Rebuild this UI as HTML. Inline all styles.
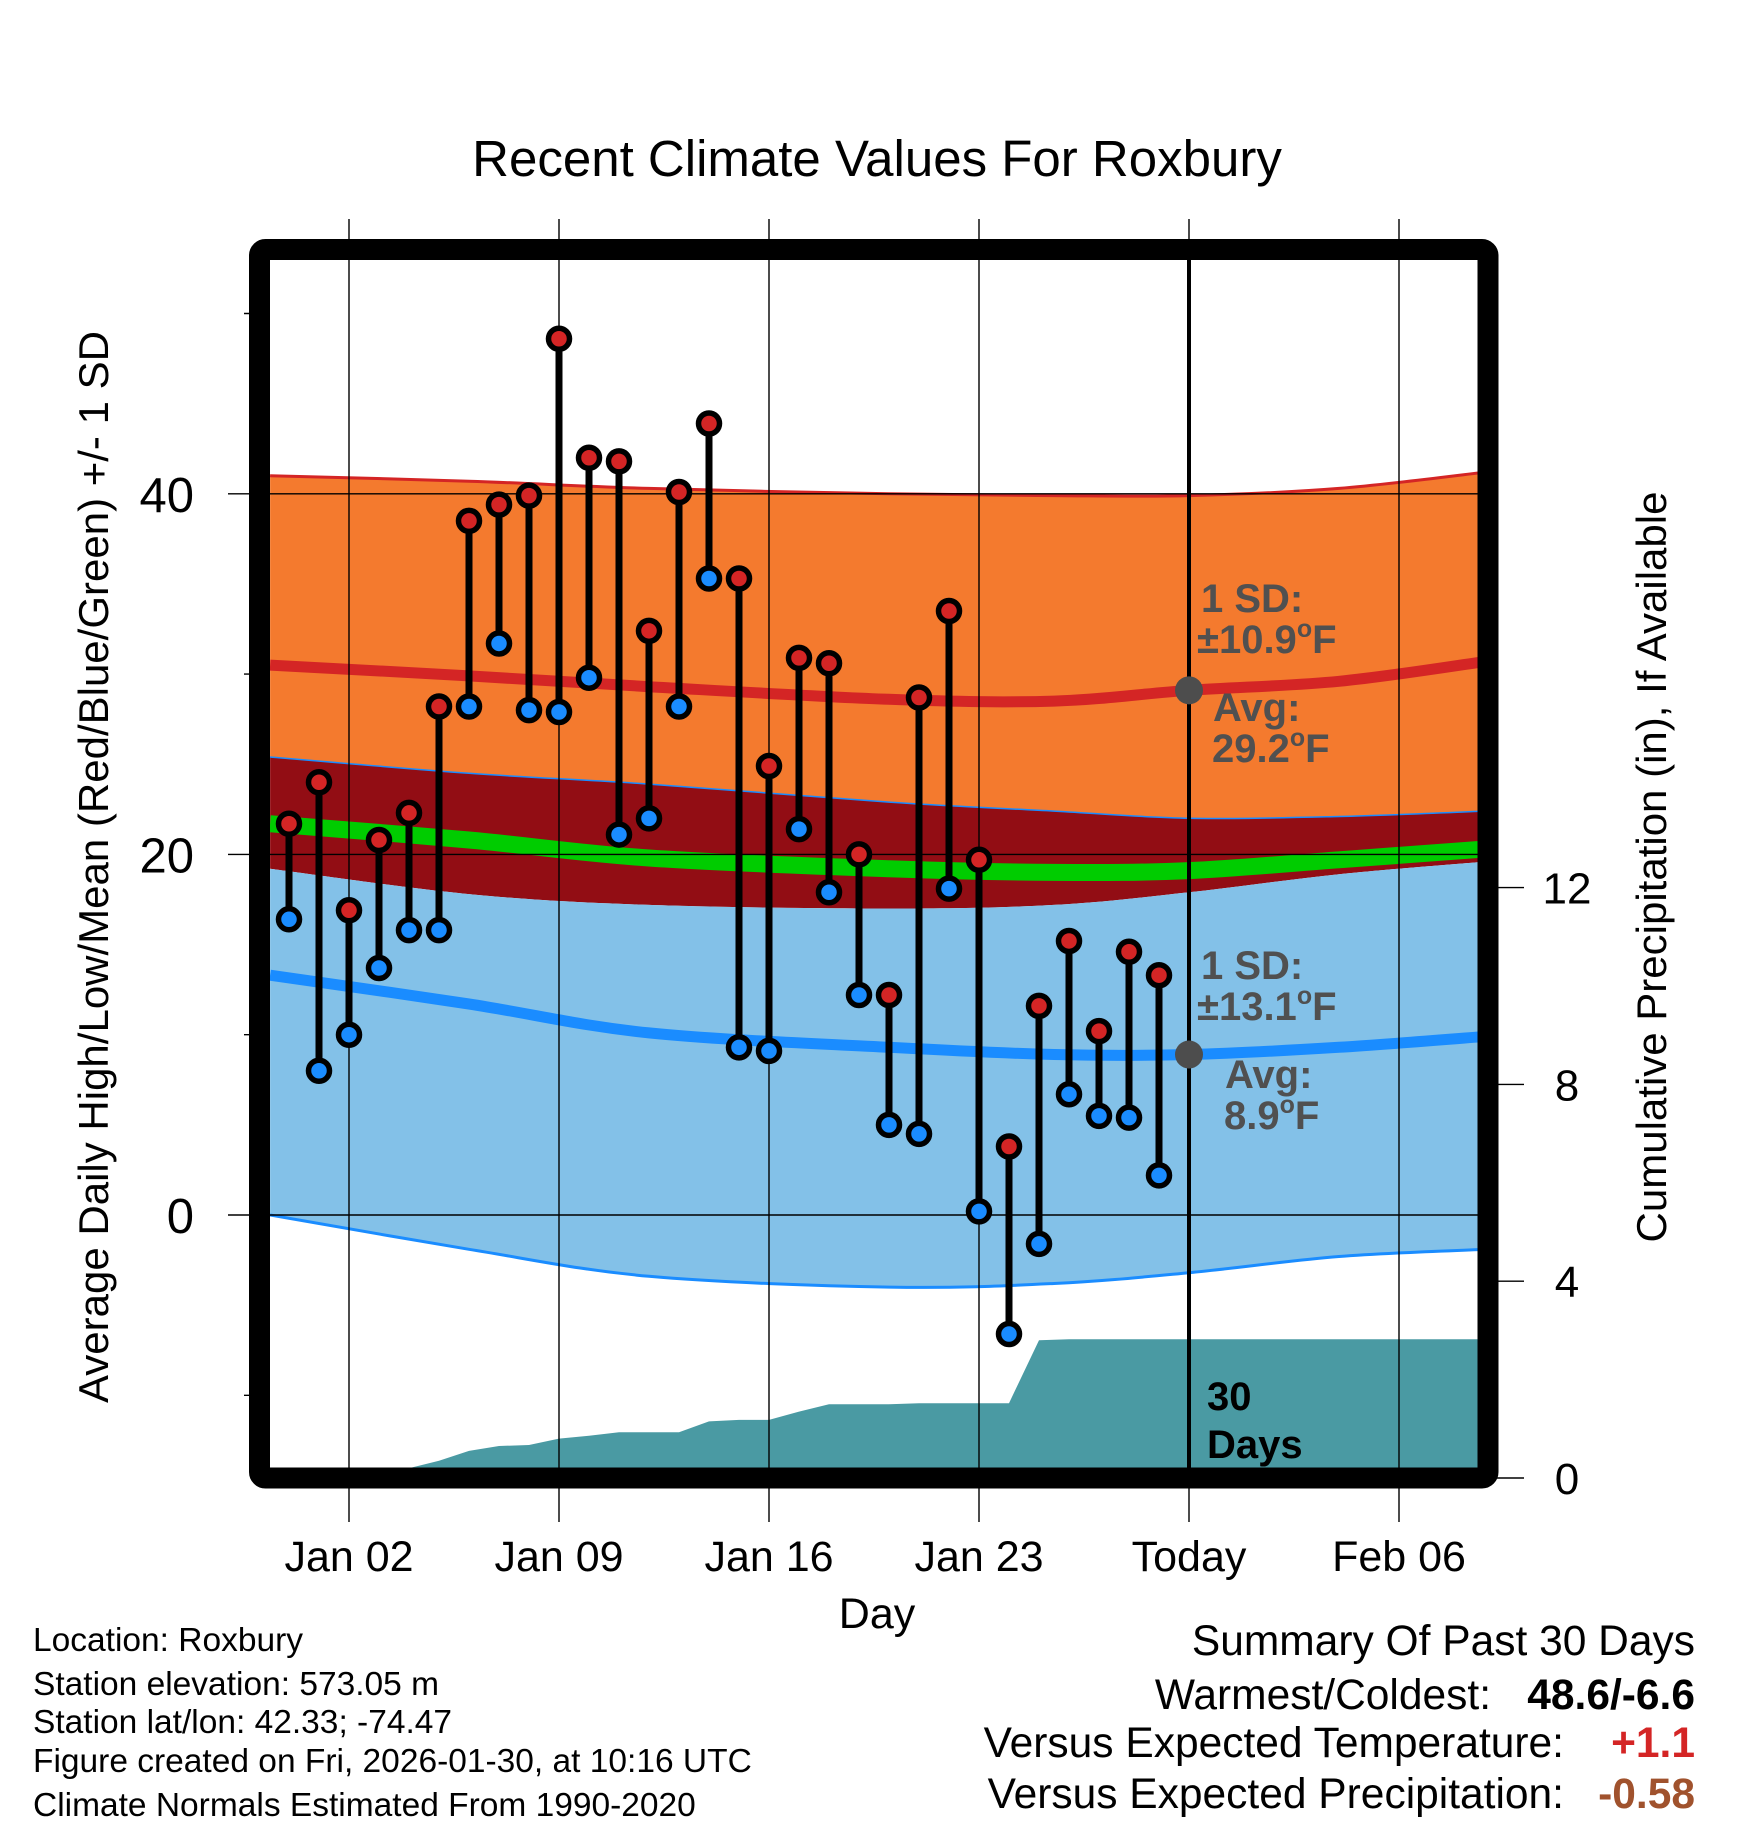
<!DOCTYPE html>
<html><head><meta charset="utf-8"><style>
html,body{margin:0;padding:0;background:#fff;}
svg{display:block;font-family:"Liberation Sans",sans-serif;}
</style></head><body>
<svg id="chart" width="1748" height="1828" viewBox="0 0 1748 1828" xmlns="http://www.w3.org/2000/svg">
<text x="877" y="176" font-size="51" text-anchor="middle">Recent Climate Values For Roxbury</text>
<g id="fills"></g>
<g id="grid"></g>
<g id="data"></g>
<g id="axes"></g>
<text transform="translate(108,867) rotate(-90)" font-size="42" text-anchor="middle">Average Daily High/Low/Mean (Red/Blue/Green) +/- 1 SD</text>
<text transform="translate(1666,867) rotate(-90)" font-size="42" text-anchor="middle">Cumulative Precipitation (in), If Available</text>
<text x="877" y="1628" font-size="43" text-anchor="middle">Day</text>
<g font-size="33.5">
<text x="33" y="1651">Location: Roxbury</text>
<text x="33" y="1695">Station elevation: 573.05 m</text>
<text x="33" y="1733">Station lat/lon: 42.33; -74.47</text>
<text x="33" y="1772">Figure created on Fri, 2026-01-30, at 10:16 UTC</text>
<text x="33" y="1816">Climate Normals Estimated From 1990-2020</text>
</g>
<g font-size="42.5">
<text x="1695" y="1655" text-anchor="end">Summary Of Past 30 Days</text>
<text x="1491" y="1709" text-anchor="end">Warmest/Coldest:</text>
<text x="1695" y="1709" text-anchor="end" font-weight="bold">48.6/-6.6</text>
<text x="1564" y="1757" text-anchor="end">Versus Expected Temperature:</text>
<text x="1695" y="1757" text-anchor="end" font-weight="bold" fill="#d42525">+1.1</text>
<text x="1564" y="1808" text-anchor="end">Versus Expected Precipitation:</text>
<text x="1695" y="1808" text-anchor="end" font-weight="bold" fill="#a0522d">-0.58</text>
</g>
</svg>
<script>
// ---- data (day index 0 = Dec 31) ----
const highs = [21.7,24.0,16.9,20.8,22.3,28.2,38.5,39.4,39.9,48.6,42.0,41.8,32.4,40.1,43.9,35.3,24.9,30.9,30.6,20.0,12.2,28.7,33.5,19.7,3.8,11.6,15.2,10.2,14.6,13.3];
const lows = [16.4,8.0,10.0,13.7,15.8,15.8,28.2,31.7,28.0,27.9,29.8,21.1,22.0,28.2,35.3,9.3,9.1,21.4,17.9,12.2,5.0,4.5,18.1,0.2,-6.6,-1.6,6.7,5.5,5.4,2.2];
const precip = [0,0,0,0.1,0.2,0.35,0.55,0.65,0.67,0.8,0.86,0.93,0.93,0.93,1.15,1.18,1.18,1.35,1.5,1.5,1.5,1.52,1.52,1.52,1.52,2.8,2.82,2.82,2.82,2.82];
const normDays = [-0.63,6,12,20,25.5,30,35,39.87];
const hiPlus = [41.0,40.7,40.3,40.0,39.9,39.9,40.3,41.2];
const hiMean = [30.5,29.9,29.3,28.6,28.5,29.1,29.6,30.7];
const hiMinus = [25.4,24.5,23.9,22.9,22.4,22.0,22.1,22.4];
const avgMean = [21.7,20.8,19.8,19.2,19.0,19.1,19.7,20.3];
const loPlus = [19.2,17.8,17.2,17.0,17.2,17.9,18.9,19.6];
const loMean = [13.3,11.7,10.1,9.3,8.9,8.9,9.3,9.9];
const loMinus = [0,-1.9,-3.4,-4.0,-3.8,-3.2,-2.3,-1.9];
const xTickDays = [2,9,16,23,30,37];
const xTickLabels = ["Jan 02","Jan 09","Jan 16","Jan 23","Today","Feb 06"];
const yTicks = [0,20,40];
const yMinor = [-10,10,30,50];
const pTicks = [0,4,8,12];
const todayDay = 30;

// ---- scales ----
const L=270,R=1478,T=260,B=1468;
const X = d => 289 + d*30;
const Y = v => 1215 - v*18.03;
const P = p => 1478 - p*49.2;
const NS='http://www.w3.org/2000/svg';
function mk(tag, attrs, parent){const e=document.createElementNS(NS,tag);for(const k in attrs)e.setAttribute(k,attrs[k]);parent.appendChild(e);return e;}
const svg=document.getElementById('chart');
const fills=document.getElementById('fills'), grid=document.getElementById('grid'), dataG=document.getElementById('data'), axes=document.getElementById('axes');

const defs=mk('defs',{},svg);
const cp=mk('clipPath',{id:'plotclip'},defs);
mk('rect',{x:L,y:T,width:R-L,height:B-T},cp);
fills.setAttribute('clip-path','url(#plotclip)');

function pts(arr){return normDays.map((d,i)=>[X(d),Y(arr[i])]);}
function smooth(p, start){
  let s = start ? ('M'+p[0][0].toFixed(1)+' '+p[0][1].toFixed(1)) : ('L'+p[0][0].toFixed(1)+' '+p[0][1].toFixed(1));
  for(let i=0;i<p.length-1;i++){
    const p0=p[Math.max(0,i-1)],p1=p[i],p2=p[i+1],p3=p[Math.min(p.length-1,i+2)];
    const c1=[p1[0]+(p2[0]-p0[0])/6,p1[1]+(p2[1]-p0[1])/6];
    const c2=[p2[0]-(p3[0]-p1[0])/6,p2[1]-(p3[1]-p1[1])/6];
    s+=' C'+c1[0].toFixed(1)+' '+c1[1].toFixed(1)+' '+c2[0].toFixed(1)+' '+c2[1].toFixed(1)+' '+p2[0].toFixed(1)+' '+p2[1].toFixed(1);
  }
  return s;
}
function line(arr){return smooth(pts(arr),true);}
function band(a,b){return smooth(pts(a),true)+' '+smooth(pts(b).reverse(),false)+' Z';}

let e;
e=mk('path',{d:band(hiPlus,hiMinus),fill:'#f47a2e'},fills);


e=mk('path',{d:band(hiMinus,loPlus),fill:'#920d14'},fills);


e=mk('path',{d:band(loPlus,loMinus),fill:'#83c1e8'},fills);


e=mk('path',{d:line(hiPlus),fill:'none',stroke:'#d42525','stroke-width':3},fills);


e=mk('path',{d:line(hiMinus),fill:'none',stroke:'#1a8cff','stroke-width':1.5},fills);


e=mk('path',{d:line(loMinus),fill:'none',stroke:'#1a8cff','stroke-width':3},fills);


e=mk('path',{d:line(avgMean),fill:'none',stroke:'#00cc00','stroke-width':17},fills);


e=mk('path',{d:line(hiMean),fill:'none',stroke:'#d42525','stroke-width':11},fills);


e=mk('path',{d:line(loMean),fill:'none',stroke:'#1a8cff','stroke-width':11},fills);



// precip area
let pd='M'+L+' '+B+' L'+L+' '+P(precip[0]).toFixed(1);
precip.forEach((p,i)=>{pd+=' L'+X(i).toFixed(1)+' '+P(p).toFixed(1);});
pd+=' L'+R+' '+P(precip[precip.length-1]).toFixed(1)+' L'+R+' '+B+' Z';
e=mk('path',{d:pd,fill:'#4a9aa3'},fills);



// grid
xTickDays.forEach((d,i)=>{
  e=mk('line',{x1:X(d),x2:X(d),y1:219,y2:1522,stroke:'#000','stroke-width':1.4},grid);
  
  
  e=mk('text',{x:X(d),y:1571,'font-size':43,'text-anchor':'middle'},axes);
  e.textContent=xTickLabels[i];
  
  
});
yTicks.forEach(v=>{
  e=mk('line',{x1:228,x2:R,y1:Y(v),y2:Y(v),stroke:'#000','stroke-width':1.4},grid);
  
  
  e=mk('text',{x:194,y:Y(v)+18,'font-size':49,'text-anchor':'end'},axes);
  e.textContent=v;
  
  
});
yMinor.forEach(v=>{
  e=mk('line',{x1:244,x2:L,y1:Y(v),y2:Y(v),stroke:'#000','stroke-width':1.4},grid);
  
  
});
pTicks.forEach(p=>{
  e=mk('line',{x1:1488,x2:1524,y1:P(p),y2:P(p),stroke:'#000','stroke-width':1.4},axes);
  
  
  e=mk('text',{x:1567,y:P(p)+16,'font-size':44,'text-anchor':'middle'},axes);
  e.textContent=p;
  
  
});
e=mk('line',{x1:X(todayDay),x2:X(todayDay),y1:T,y2:B,stroke:'#000','stroke-width':4},grid);



// daily bars & markers
highs.forEach((h,i)=>{
  const l=lows[i];
  e=mk('line',{x1:X(i),x2:X(i),y1:Y(h),y2:Y(l),stroke:'#000','stroke-width':7},dataG);
  
  
});
highs.forEach((h,i)=>{
  e=mk('circle',{cx:X(i),cy:Y(h),r:10.5,fill:'#d42525',stroke:'#000','stroke-width':5.5},dataG);
  
  
  e=mk('circle',{cx:X(i),cy:Y(lows[i]),r:10.5,fill:'#1a8cff',stroke:'#000','stroke-width':5.5},dataG);
  
  
});

// today markers
[hiMean[5],loMean[5]].forEach(v=>{
  e=mk('circle',{cx:X(todayDay),cy:Y(v),r:14,fill:'#4d4d4d'},dataG);
  
  
});

// annotations
function ann(x,y,html,name,fill){
  const t=mk('text',{x:x,y:y,'font-size':40,'font-weight':'bold',fill:fill||'#505050'},dataG);
  t.innerHTML=html;
  
  
}
const deg='<tspan dy="-16" font-size="25">o</tspan><tspan dy="16">F</tspan>';
ann(1201,612,'1 SD:','high-sd-label');
ann(1197,653,'±10.9'+deg,'high-sd-value');
ann(1213,721,'Avg:','high-avg-label');
ann(1212,762,'29.2'+deg,'high-avg-value');
ann(1201,979,'1 SD:','low-sd-label');
ann(1197,1020,'±13.1'+deg,'low-sd-value');
ann(1225,1088,'Avg:','low-avg-label');
ann(1224,1129,'8.9'+deg,'low-avg-value');
ann(1207,1410,'30','days-count-label','#000');
ann(1207,1458,'Days','days-word-label','#000');

// frame
e=mk('rect',{x:259.5,y:249.5,width:1228.5,height:1228.5,rx:6,fill:'none',stroke:'#000','stroke-width':21},axes);


</script>
</body></html>
